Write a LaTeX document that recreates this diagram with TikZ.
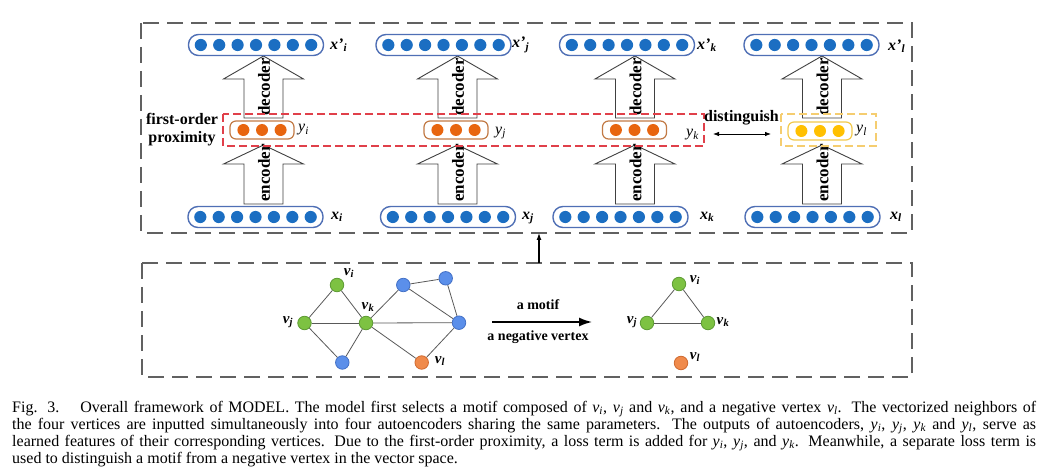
\documentclass[tikz,border=0pt]{standalone}
\usepackage{fontspec}
\setmainfont{Liberation Serif}
\usetikzlibrary{arrows.meta}
\definecolor{dotblue}{HTML}{1B6EC2}
\definecolor{pillblue}{HTML}{4F6FB5}
\definecolor{dotorange}{HTML}{E8650F}
\definecolor{pillorange}{HTML}{C27A45}
\definecolor{dotyellow}{HTML}{FFC000}
\definecolor{pillyellow}{HTML}{F2C94C}
\definecolor{boxred}{HTML}{E0404A}
\definecolor{boxyellow}{HTML}{F5CD70}
\definecolor{ggreen}{HTML}{7DC242}
\definecolor{ggreenb}{HTML}{5E9C34}
\definecolor{gblue}{HTML}{5B8FEA}
\definecolor{gblueb}{HTML}{4370C6}
\definecolor{gorange}{HTML}{F08A4B}
\definecolor{gorangeb}{HTML}{D06A30}
\newcommand\xlab[1]{\textbf{\textit{x}}\textsubscript{\textbf{\textit{#1}}}}
\newcommand\xplab[1]{\textbf{\textit{x'}}\textsubscript{\textbf{\textit{#1}}}}
\newcommand\ylab[1]{\textit{y}\textsubscript{\textit{#1}}}
\newcommand\vlab[1]{\textbf{\textit{v}}\textsubscript{\textbf{\textit{#1}}}}
\newcommand\cv[1]{\textit{v}\textsubscript{\textit{#1}}}
\newcommand\cy[1]{\textit{y}\textsubscript{\textit{#1}}}
\tikzset{
  outerbox/.style={draw=black!62, line width=1.3pt, dash pattern=on 16pt off 8pt},
  pill/.style={draw=pillblue, line width=1.4pt, fill=white, rounded corners=10pt,
    minimum width=135pt, minimum height=21pt, inner sep=0pt},
  midpill/.style={line width=1.2pt, fill=white, rounded corners=6pt,
    minimum width=64pt, minimum height=18pt, inner sep=0pt},
  blockarrow/.style={draw=black!75, line width=0.9pt, fill=white, line join=miter},
  coder/.style={rotate=90, font=\bfseries\fontsize{17}{17}\selectfont, inner sep=0pt},
  lab/.style={anchor=west, inner sep=0pt, font=\fontsize{16}{16}\selectfont},
  vl/.style={inner sep=0pt, font=\fontsize{15}{15}\selectfont},
  btxt/.style={inner sep=0pt, font=\bfseries\fontsize{16}{18}\selectfont, align=center},
  gnode/.style={circle, minimum size=13.5pt, inner sep=0pt, line width=0.8pt},
  gedge/.style={draw=black!65, line width=0.8pt},
  capline/.style={anchor=base west, inner sep=0pt, font=\fontsize{16}{17}\selectfont},
}
\newcommand\barrow[4]{%
  \draw[blockarrow] (#1-19.5,#2) -- (#1-19.5,#3) -- (#1-40,#3) -- (#1,#4) -- (#1+40,#3)
    -- (#1+19.5,#3) -- (#1+19.5,#2) -- cycle;}
\newcommand\bluedots[1]{\foreach \k in {-3,...,3}{\fill[dotblue] ([xshift=\k*18.4pt]#1.center) circle (6.1pt);}}
\newcommand\middots[2]{\foreach \k in {-1,0,1}{\fill[#2] ([xshift=\k*18.6pt]#1.center) circle (6pt);}}
\begin{document}
\begin{tikzpicture}[x=1pt,y=-1pt]
\useasboundingbox (0,0) rectangle (1050,473);
% outer boxes
\draw[outerbox] (141,23) rectangle (912,233);
\draw[outerbox] (142,263) rectangle (912,377);
\coordinate (boxtop) at (539,233);
\coordinate (boxbot) at (539,263);
\draw[line width=1.2pt, -{Latex[length=7pt,width=5pt]}] (boxbot) -- (boxtop);
% block arrows
\foreach \cx in {263.5,457.5,635,822}{
  \barrow{\cx}{118}{79}{56}
  \barrow{\cx}{204}{164}{145}
  \node[coder] at (\cx+0.5,87) {decoder};
  \node[coder] at (\cx+0.5,173) {encoder};
}
% highlight boxes
\draw[boxred, line width=1.1pt, dash pattern=on 8pt off 4pt] (223,114) rectangle (704,146);
\draw[boxyellow, line width=1.1pt, dash pattern=on 8pt off 4pt] (781,114) rectangle (876,146);
% top and bottom pills
\node[pill] (xpi) at (256,45) {};
\node[pill] (xpj) at (443.5,45) {};
\node[pill] (xpk) at (627,45) {};
\node[pill] (xpl) at (811.5,45) {};
\node[pill] (xi) at (255.5,217) {};
\node[pill] (xj) at (448,217) {};
\node[pill] (xk) at (620.5,217) {};
\node[pill] (xl) at (812.5,217) {};
\bluedots{xpi}\bluedots{xpj}\bluedots{xpk}\bluedots{xpl}
\bluedots{xi}\bluedots{xj}\bluedots{xk}\bluedots{xl}
% middle pills
\node[midpill, draw=pillorange] (yi) at (262,130) {};
\node[midpill, draw=pillorange] (yj) at (456,130) {};
\node[midpill, draw=pillorange] (yk) at (634.5,130) {};
\node[midpill, draw=pillyellow] (yl) at (820,131) {};
\middots{yi}{dotorange}\middots{yj}{dotorange}\middots{yk}{dotorange}\middots{yl}{dotyellow}
% labels
\node[lab] at (330,45) {\xplab{i}};
\node[lab] at (512,45) {\xplab{j}};
\node[lab] at (697,45) {\xplab{k}};
\node[lab] at (888,46) {\xplab{l}};
\node[lab] at (331,217) {\xlab{i}};
\node[lab] at (522,218) {\xlab{j}};
\node[lab] at (700,217) {\xlab{k}};
\node[lab] at (890,217) {\xlab{l}};
\node[lab] at (298,130) {\ylab{i}};
\node[lab] at (495,133) {\ylab{j}};
\node[lab] at (686,135) {\ylab{k}};
\node[lab] at (856,131) {\ylab{l}};
\node[btxt] (fop) at (182,130) {first-order\\proximity};
\node[btxt] (dist) at (741.5,118) {distinguish};
\coordinate (dl) at (713,134);
\coordinate (dr) at (771,134);
\draw[line width=0.8pt, {Latex[length=6pt,width=4.5pt]}-{Latex[length=6pt,width=4.5pt]}] (dl) -- (dr);
% graph
\node[gnode, fill=ggreen, draw=ggreenb] (gi) at (337,285) {};
\node[gnode, fill=ggreen, draw=ggreenb] (gj) at (304.5,323) {};
\node[gnode, fill=ggreen, draw=ggreenb] (gk) at (366,323) {};
\node[gnode, fill=gblue, draw=gblueb] (gb1) at (342.3,362.5) {};
\node[gnode, fill=gorange, draw=gorangeb] (gl) at (421.7,362.5) {};
\node[gnode, fill=gblue, draw=gblueb] (gt1) at (403.3,285) {};
\node[gnode, fill=gblue, draw=gblueb] (gt2) at (445.7,278.3) {};
\node[gnode, fill=gblue, draw=gblueb] (gr) at (459,322.7) {};
\foreach \a/\b in {gi/gj,gi/gk,gj/gk,gj/gb1,gk/gb1,gk/gt1,gk/gr,gk/gl,gt1/gt2,gt1/gr,gt2/gr,gr/gl}
  \draw[gedge] (\a) -- (\b);
\node[vl] at (349,273) {\vlab{i}};
\node[vl] at (288,322) {\vlab{j}};
\node[vl] at (368,307) {\vlab{k}};
\node[vl] at (440,361) {\vlab{l}};
\coordinate (ma) at (492,322);
\coordinate (mb) at (592,322);
\draw[line width=1.5pt, -{Latex[length=13pt,width=9pt]}] (ma) -- (mb);
\node[inner sep=0pt, font=\bfseries\fontsize{14}{14}\selectfont] at (538,305) {a motif};
\node[inner sep=0pt, font=\bfseries\fontsize{14}{14}\selectfont] at (538,337) {a negative vertex};
% motif
\node[gnode, fill=ggreen, draw=ggreenb] (mi) at (679,284) {};
\node[gnode, fill=ggreen, draw=ggreenb] (mj) at (647,323) {};
\node[gnode, fill=ggreen, draw=ggreenb] (mk) at (708,323) {};
\node[gnode, fill=gorange, draw=gorangeb] (ml) at (681,363) {};
\draw[gedge] (mi) -- (mj);
\draw[gedge] (mi) -- (mk);
\draw[gedge] (mj) -- (mk);
\node[vl] at (695,280) {\vlab{i}};
\node[vl] at (632,322) {\vlab{j}};
\node[vl] at (723,322) {\vlab{k}};
\node[vl] at (695,357) {\vlab{l}};
% caption
\node[capline] (c1) at (12,412) {\makebox[1024pt][s]{Fig. 3.\hspace{1.3em}Overall framework of MODEL. The model first selects a motif composed of \cv{i}, \cv{j} and \cv{k}, and a negative vertex \cv{l}. The vectorized neighbors of}};
\node[capline] (c2) at (12,429) {\makebox[1024pt][s]{the four vertices are inputted simultaneously into four autoencoders sharing the same parameters. The outputs of autoencoders, \cy{i}, \cy{j}, \cy{k} and \cy{l}, serve as}};
\node[capline] (c3) at (12,446) {\makebox[1024pt][s]{learned features of their corresponding vertices. Due to the first-order proximity, a loss term is added for \cy{i}, \cy{j}, and \cy{k}. Meanwhile, a separate loss term is}};
\node[capline] (c4) at (12,463) {used to distinguish a motif from a negative vertex in the vector space.};
\end{tikzpicture}
\end{document}
